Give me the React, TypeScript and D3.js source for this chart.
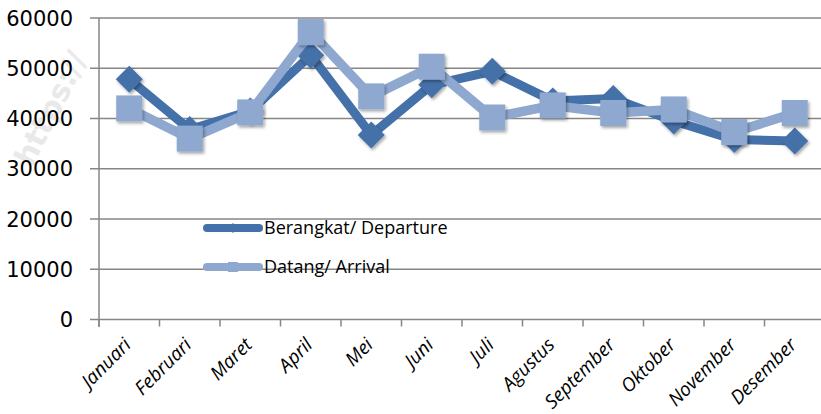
import React from "react";
import * as d3 from "d3";

const months = ["Januari","Februari","Maret","April","Mei","Juni","Juli","Agustus","September","Oktober","November","Desember"];
const departure = [47800, 37800, 41500, 52600, 36700, 46700, 49400, 43500, 44000, 39500, 35800, 35500];
const arrival = [42000, 36000, 41200, 57200, 44400, 50300, 40200, 42600, 41100, 41800, 37300, 41100];
const yTicks = [0, 10000, 20000, 30000, 40000, 50000, 60000];
const seriesNames = ["Berangkat/ Departure", "Datang/ Arrival"];

const W = 821, H = 414;
const DARK = "#4471A9";
const LIGHT = "#8EA8CF";

export default function App() {
  const x = d3.scaleBand<string>().domain(months).range([99, 825]).paddingInner(0).paddingOuter(0);
  const y = d3.scaleLinear().domain([0, 60000]).range([319.5, 18]);
  const cx = (m: string) => (x(m) as number) + x.bandwidth() / 2;
  const line = d3.line<number>().x((_, i) => cx(months[i])).y((v) => y(v));
  const ds = 13.5;
  const sq = 26;
  return (
    <svg width={W} height={H} style={{ position: "absolute", left: 0, top: 0, background: "#fff" }}>
      <defs>
        <filter id="sh" x="-50%" y="-50%" width="200%" height="200%">
          <feDropShadow dx="1.5" dy="2" stdDeviation="1.5" floodColor="#000" floodOpacity="0.35" />
        </filter>
      </defs>
      <text transform="translate(32,168) rotate(-63)" fontFamily="DejaVu Sans" fontWeight="bold" fontSize={30} fill="#e9e9e9">https://</text>
      {yTicks.map((t) => (
        <g key={t}>
          <line x1={90} x2={W} y1={y(t)} y2={y(t)} stroke="#868686" strokeWidth={1.5} />
          <text x={73} y={y(t)} dy="0.36em" textAnchor="end" fontFamily="DejaVu Sans" fontSize={21} fill="#000">{t}</text>
        </g>
      ))}
      <line x1={99} x2={99} y1={18} y2={327} stroke="#868686" strokeWidth={1.5} />
      {months.map((m) => (
        <line key={m} x1={x(m) as number} x2={x(m) as number} y1={y(0)} y2={y(0) + 7} stroke="#868686" strokeWidth={1.5} />
      ))}
      {months.map((m) => (
        <text key={m} transform={`translate(${cx(m) + 3},${346}) rotate(-45)`} textAnchor="end" fontFamily="Open Sans" fontStyle="italic" fontSize={19} fill="#000">{m}</text>
      ))}
      <path d={line(departure) || ""} fill="none" stroke={DARK} strokeWidth={9} strokeLinejoin="round" />
      {departure.map((v, i) => (
        <path key={i} filter="url(#sh)" d={`M${cx(months[i])},${y(v) - ds}L${cx(months[i]) + ds},${y(v)}L${cx(months[i])},${y(v) + ds}L${cx(months[i]) - ds},${y(v)}Z`} fill={DARK} />
      ))}
      <path d={line(arrival) || ""} fill="none" stroke={LIGHT} strokeWidth={9.5} strokeLinejoin="round" />
      {arrival.map((v, i) => (
        <rect key={i} filter="url(#sh)" x={cx(months[i]) - sq / 2} y={y(v) - sq / 2} width={sq} height={sq} fill={LIGHT} />
      ))}
      <g>
        <line x1={207} x2={259} y1={228} y2={228} stroke={DARK} strokeWidth={8} strokeLinecap="round" />
        <path d="M233,223L238,228L233,233L228,228Z" fill={DARK} />
        <text x={264} y={228} dy="0.36em" fontFamily="Open Sans" fontSize={18} fill="#000">{seriesNames[0]}</text>
        <line x1={207} x2={259} y1={267} y2={267} stroke={LIGHT} strokeWidth={8} strokeLinecap="round" />
        <rect x={228} y={262} width={10} height={10} fill={LIGHT} />
        <text x={264} y={267} dy="0.36em" fontFamily="Open Sans" fontSize={18} fill="#000">{seriesNames[1]}</text>
      </g>
    </svg>
  );
}
